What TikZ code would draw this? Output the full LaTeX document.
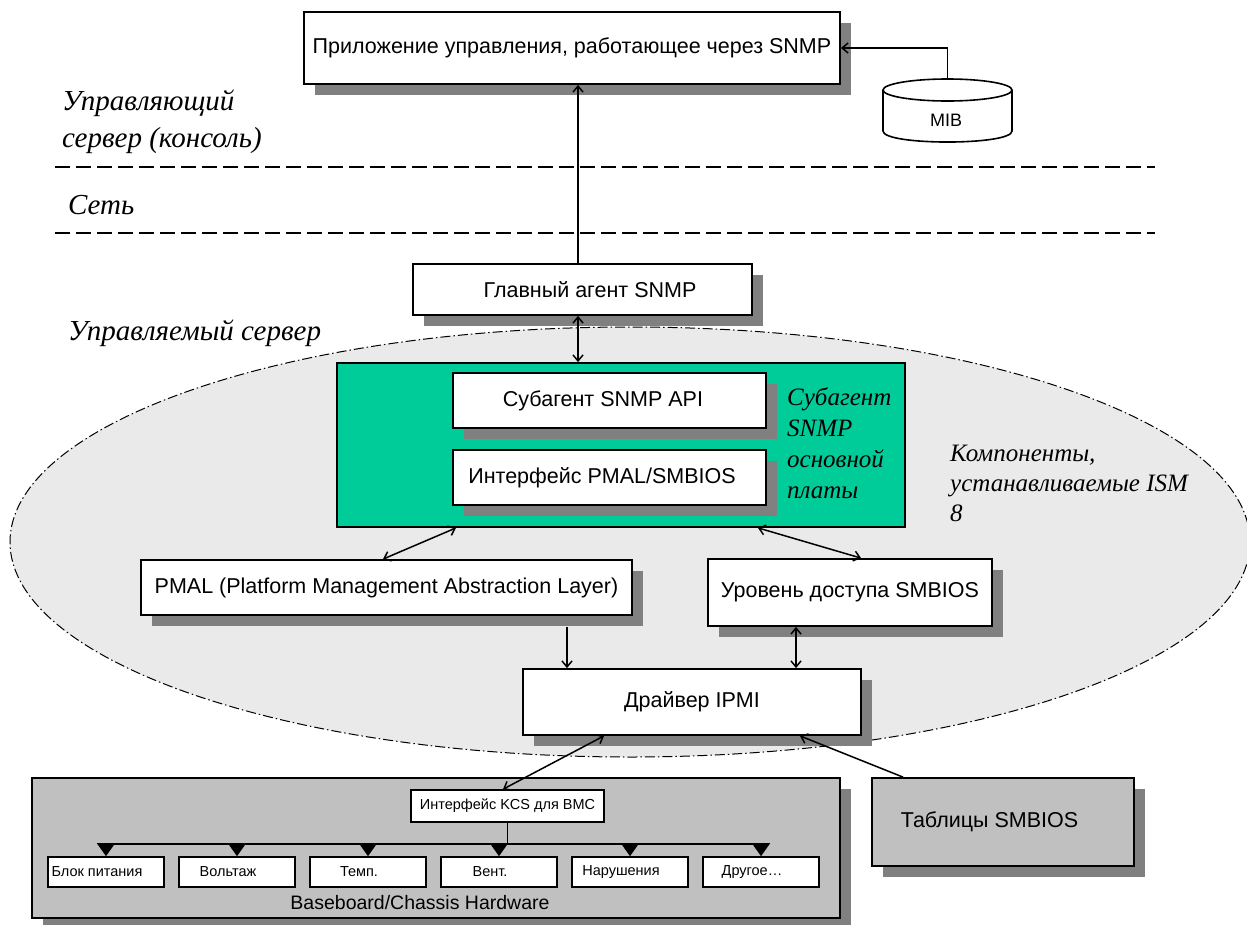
\documentclass[tikz,border=0pt]{standalone}
\usepackage{fontspec}
\setmainfont{Liberation Sans}
\newfontfamily\tnr{Liberation Serif}
\usetikzlibrary{arrows.meta,shadows,shapes.geometric}
\definecolor{teal0}{RGB}{0,204,153}
\definecolor{shgray}{RGB}{128,128,128}
\definecolor{ellfill}{RGB}{234,234,234}
\definecolor{hwgray}{RGB}{192,192,192}
\begin{document}
\begin{tikzpicture}[x=1pt,y=-1pt,
 box/.style={draw, line width=1.8pt, fill=white, inner sep=0pt, font=\fontsize{21.5}{25}\selectfont, general shadow={fill=shgray, shadow xshift=11pt, shadow yshift=-11pt}},
 sbox/.style={draw, line width=1.6pt, fill=white, inner sep=0pt, font=\fontsize{14.5}{17}\selectfont, minimum width=116pt, minimum height=30pt},
 arr/.style={line width=1.5pt, -{Straight Barb[length=6pt,width=10pt]}},
 darr/.style={line width=1.5pt, {Straight Barb[length=6pt,width=10pt]}-{Straight Barb[length=6pt,width=10pt]}},
 lbl/.style={font=\tnr\itshape\fontsize{25}{31}\selectfont, anchor=west, inner sep=0pt, align=left},
 biglbl/.style={lbl, font=\tnr\itshape\fontsize{29}{37}\selectfont},
 sep/.style={line width=1.6pt, dash pattern=on 15pt off 6pt},
 cyl/.style={draw, line width=1.6pt, fill=white},
 ]
\useasboundingbox (0,0) rectangle (1247,924);
% managed server ellipse
\draw[fill=ellfill, line width=1pt, dash pattern=on 10pt off 3pt on 1.5pt off 3pt] (630,542) ellipse [x radius=620pt, y radius=215pt];
% separators
\draw[sep] (55,167) -- (1155,167);
\draw[sep] (55,233) -- (1155,233);
% labels
\node[biglbl] (l1) at (62,121.5) {Управляющий\\сервер (консоль)};
\node[biglbl] (l2) at (68,205) {Сеть};
\node[biglbl] (l3) at (68,333) {Управляемый сервер};
\node[lbl, font=\tnr\itshape\fontsize{25}{30}\selectfont] (l4) at (950,483) {Компоненты,\\устанавливаемые ISM\\8};
% boxes
\node[box, minimum width=536pt, minimum height=72pt] (app) at (572,48) {Приложение управления, работающее через SNMP};
% MIB cylinder
\path[cyl] (883,90) -- (883,131) .. controls (883,145.7) and (1012,145.7) .. (1012,131) -- (1012,90);
\draw[cyl] (947.5,90) ellipse [x radius=64.5pt, y radius=11pt];
\coordinate (mibtop) at (947.5,79);
\node[font=\fontsize{18}{20}\selectfont, inner sep=0pt] (mibl) at (946,120) {MIB};
\node[box, minimum width=339pt, minimum height=51pt] (glav) at (582.5,289.5) {\hspace*{15pt}Главный агент SNMP};
\node[draw, line width=1.8pt, fill=teal0, minimum width=568pt, minimum height=164pt, inner sep=0pt] (teal) at (621,445) {};
\node[box, minimum width=313pt, minimum height=55pt] (sub) at (609.5,400.5) {Субагент SNMP API\hspace*{13pt}};
\node[box, minimum width=313pt, minimum height=55pt] (intf) at (609.5,477.5) {Интерфейс PMAL/SMBIOS\hspace*{15pt}};
\node[lbl] (subl) at (787,443.5) {Субагент\\SNMP\\основной\\платы};
\node[box, minimum width=491pt, minimum height=55pt] (pmal) at (386.5,587.5) {PMAL (Platform Management Abstraction Layer)};
\node[box, minimum width=284pt, minimum height=67pt] (smb) at (850,592.5) {Уровень доступа SMBIOS};
\node[box, minimum width=338pt, minimum height=66pt] (drv) at (692,702) {Драйвер IPMI};
\node[box, fill=hwgray, minimum width=262pt, minimum height=88pt] (tab) at (1003,822) {Таблицы SMBIOS\hspace*{27pt}};
\node[box, fill=hwgray, minimum width=808pt, minimum height=140pt] (hw) at (436,848) {};
\node[font=\fontsize{19.5}{22}\selectfont, inner sep=0pt] (hwl) at (420,903) {Baseboard/Chassis Hardware};
\node[sbox, minimum width=193pt, minimum height=32pt] (kcs) at (507.5,806) {Интерфейс KCS для BMC};
\foreach \t [count=\i from 0] in {{Блок питания},{Вольтаж},{Темп.},{Вент.},{Нарушения},{Другое\ldots}}
  \node[sbox] (b\i) at ({106+131*\i},872) {\t\hspace*{18pt}};
% bus
\coordinate (busy) at (0,844);
\draw[line width=1.5pt] (kcs.south) -- (kcs.south |- busy);
\draw[line width=1.5pt] (b0.north |- busy) -- (b5.north |- busy);
\foreach \i in {0,1,2,3,4,5}
  \draw[line width=1.5pt, -{Triangle[length=13pt,width=18pt]}] (b\i.north |- busy) -- (b\i.north);
% connectors
\coordinate (xa) at (578,0);
\draw[arr] (glav.north -| xa) -- (app.south -| xa);
\draw[darr] (glav.south -| xa) -- (teal.north -| xa);
\coordinate (c1) at (456,0); \coordinate (c2) at (383,0);
\draw[darr] (teal.south -| c1) -- (pmal.north -| c2);
\coordinate (c3) at (758,0); \coordinate (c4) at (861,0);
\draw[darr] (teal.south -| c3) -- (smb.north -| c4);
\coordinate (c5) at (567,0);
\draw[arr] (pmal.south -| c5) ++(0,11) -- (drv.north -| c5);
\coordinate (c6) at (796,0);
\draw[darr] (smb.south -| c6) -- (drv.north -| c6);
\coordinate (c7) at (800,0); \coordinate (c8) at (903,0);
\draw[arr] (tab.north -| c8) -- (drv.south -| c7);
\coordinate (c9) at (604,0); \coordinate (c10) at (503,0);
\draw[darr] (drv.south -| c9) -- (kcs.north -| c10);
\draw[arr] (mibtop) |- (app.east);
\end{tikzpicture}
\end{document}
